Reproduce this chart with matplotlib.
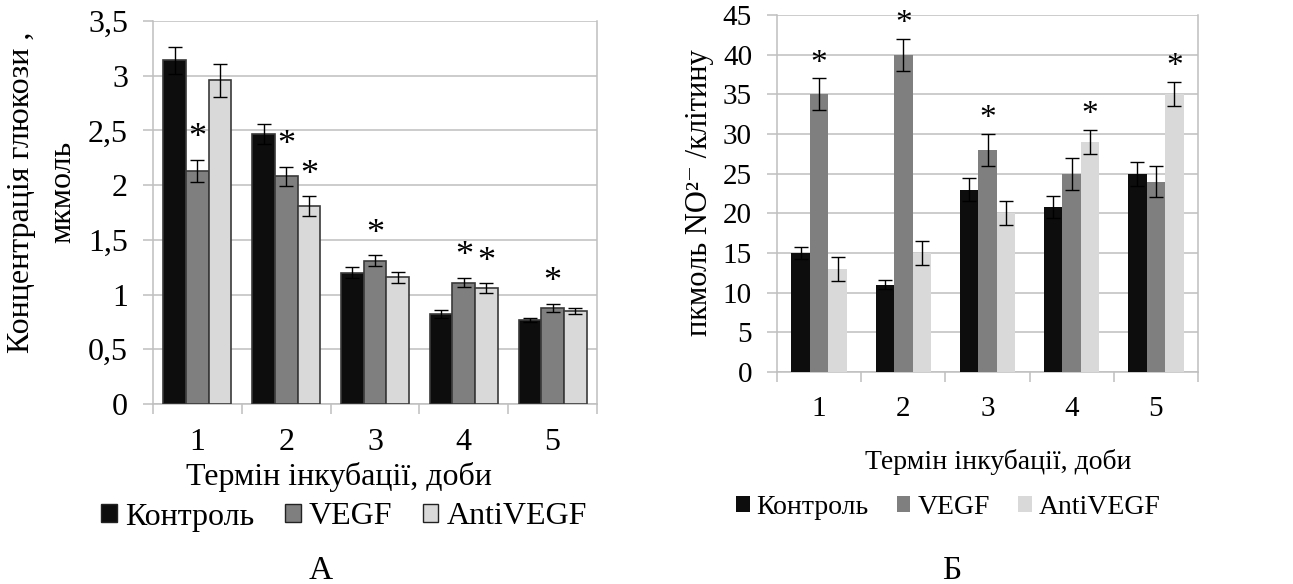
import matplotlib
matplotlib.use("Agg")
import matplotlib.pyplot as plt
from matplotlib.patches import Patch
from matplotlib.ticker import FixedLocator, FuncFormatter
import numpy as np

plt.rcParams['font.family'] = ['Liberation Serif', 'DejaVu Serif']

# ---- data ----
days = ['1', '2', '3', '4', '5']
series_names = ['Контроль', 'VEGF', 'AntiVEGF']

# panel A: glucose, mkmol
gluc_control = [3.14, 2.47, 1.20, 0.82, 0.77]
gluc_vegf = [2.13, 2.08, 1.31, 1.11, 0.88]
gluc_anti = [2.96, 1.81, 1.16, 1.06, 0.85]
gluc_control_err = [0.12, 0.09, 0.05, 0.035, 0.02]
gluc_vegf_err = [0.10, 0.09, 0.05, 0.045, 0.035]
gluc_anti_err = [0.15, 0.09, 0.05, 0.045, 0.03]
gluc_marks = [(0, 1), (1, 1), (1, 2), (2, 1), (3, 1), (3, 2), (4, 1)]

# panel B: NO2-, pkmol per cell
no_control = [15, 11, 23, 20.8, 25]
no_vegf = [35, 40, 28, 25, 24]
no_anti = [13, 15, 20, 29, 35]
no_control_err = [0.8, 0.6, 1.4, 1.4, 1.5]
no_vegf_err = [2, 2, 2, 2, 2]
no_anti_err = [1.5, 1.5, 1.5, 1.5, 1.5]
no_marks = [(0, 1), (1, 1), (2, 1), (3, 2), (4, 2)]

colors = ['#0d0d0d', '#7f7f7f', '#d9d9d9']
grid_c = '#bfbfbf'
W, H = 1293, 584


def draw_panel(ax, vals, errs, marks, width, ymax, ystep, edge, fs, star_fs, star_off):
    x = np.arange(len(days))
    tops = []
    for k in range(3):
        pos = x + (k - 1) * width
        kw = dict(edgecolor=edge, linewidth=1.2) if edge else dict(linewidth=0)
        ax.bar(pos, vals[k], width, color=colors[k], zorder=3, **kw)
        ax.errorbar(pos, vals[k], yerr=errs[k], fmt='none', ecolor='black',
                    elinewidth=1.0, capsize=5, capthick=1.0, zorder=4)
        tops.append(np.array(vals[k]) + np.array(errs[k]))
    for g, k in marks:
        ax.annotate('*', xy=(x[g] + (k - 1) * width, tops[k][g]),
                    xytext=(0, star_off), textcoords='offset points',
                    ha='center', va='baseline', fontsize=star_fs)
    ax.set_xlim(-0.5, len(days) - 0.5)
    ax.set_ylim(0, ymax)
    ax.set_yticks(np.arange(0, ymax + ystep / 2, ystep))
    ax.yaxis.grid(True, color=grid_c, linewidth=1.1, zorder=0)
    ax.set_axisbelow(True)
    ax.set_xticks(x)
    ax.set_xticklabels(days)
    ax.xaxis.set_minor_locator(FixedLocator(np.arange(-0.5, len(days), 1.0)))
    ax.tick_params(axis='x', which='major', length=0, pad=17, labelsize=fs)
    ax.tick_params(axis='x', which='minor', length=7, width=1.1, color=grid_c)
    ax.tick_params(axis='y', length=7, width=1.1, color=grid_c, pad=11, labelsize=fs)
    ax.spines['top'].set_visible(False)
    for s in ['left', 'right', 'bottom']:
        ax.spines[s].set_color(grid_c)
        ax.spines[s].set_linewidth(1.1)


fig = plt.figure(figsize=(W / 100, H / 100), dpi=100)

# panel A
axA = fig.add_axes([153 / W, 1 - 404 / H, (597 - 153) / W, (404 - 21) / H])
draw_panel(axA, [gluc_control, gluc_vegf, gluc_anti],
           [gluc_control_err, gluc_vegf_err, gluc_anti_err],
           gluc_marks, 0.255, 3.5, 0.5, '#3a3a3a', 23, 26, 9)
axA.yaxis.set_major_formatter(FuncFormatter(lambda v, p: ('%g' % v).replace('.', ',')))
fig.text(22 / W, 1 - 192 / H, 'Концентрація глюкози ,', rotation=90,
         ha='center', va='center', fontsize=23)
fig.text(63 / W, 1 - 192 / H, 'мкмоль', rotation=90, ha='center', va='center', fontsize=23)
fig.text(339 / W, 1 - 477 / H, 'Термін інкубації, доби', ha='center', va='center', fontsize=23)
hA = [Patch(facecolor=colors[k], edgecolor='#222222', linewidth=1.0) for k in range(3)]
fig.legend(hA, series_names, loc='center', bbox_to_anchor=(344 / W, 1 - 517 / H),
           ncol=3, frameon=False, fontsize=23, handlelength=0.5, handleheight=0.5,
           handletextpad=0.25, columnspacing=0.95, borderpad=0, borderaxespad=0)
fig.text(321 / W, 1 - 579 / H, 'А', ha='center', va='baseline', fontsize=24)

# panel B
axB = fig.add_axes([777 / W, 1 - 372 / H, (1198 - 777) / W, (372 - 15) / H])
draw_panel(axB, [no_control, no_vegf, no_anti],
           [no_control_err, no_vegf_err, no_anti_err],
           no_marks, 0.22, 45, 5, None, 21, 24, 5)
fig.text(700 / W, 1 - 193 / H, 'пкмоль NO²⁻ /клітину', rotation=90,
         ha='center', va='center', fontsize=22)
fig.text(998 / W, 1 - 462 / H, 'Термін інкубації, доби', ha='center', va='center', fontsize=20)
hB = [Patch(facecolor=colors[k], linewidth=0) for k in range(3)]
fig.legend(hB, series_names, loc='center', bbox_to_anchor=(948 / W, 1 - 507 / H),
           ncol=3, frameon=False, fontsize=20, handlelength=0.5, handleheight=0.5,
           handletextpad=0.25, columnspacing=1.0, borderpad=0, borderaxespad=0)
fig.text(952 / W, 1 - 579 / H, 'Б', ha='center', va='baseline', fontsize=24)

fig.savefig('out.png', dpi=100)
